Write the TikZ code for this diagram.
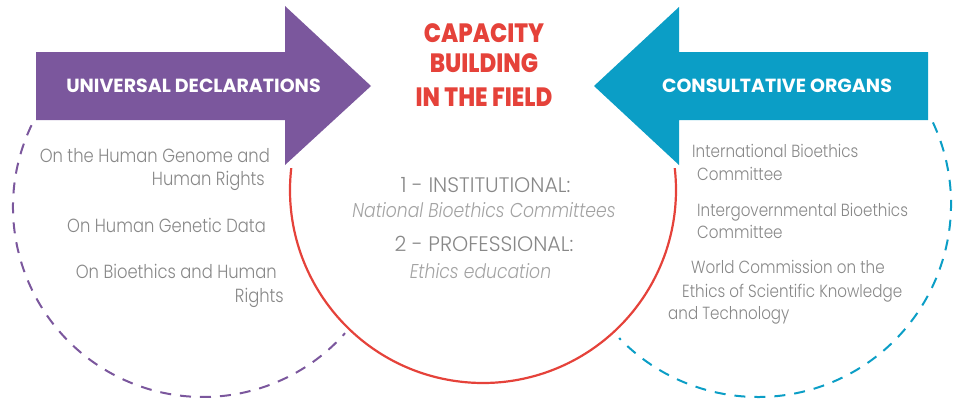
\documentclass[tikz,border=0pt]{standalone}
\usepackage{fontspec}
\setmainfont{Poppins}
\newfontfamily\hdfont{Poppins Bold}[FakeStretch=1.0]
\newfontfamily\ttlfont{Poppins ExtraBold}[FakeStretch=0.86]
\newfontfamily\bdfont{Poppins Light}[FakeStretch=0.86]
\newfontfamily\midfont{Poppins Light}[FakeStretch=0.98]
\newfontfamily\itfont{Poppins Light Italic}[FakeStretch=0.86]
\definecolor{upurple}{HTML}{7B579D}
\definecolor{ublue}{HTML}{0B9EC6}
\definecolor{ured}{HTML}{E5423A}
\definecolor{ugray}{HTML}{888888}
\definecolor{ulgray}{HTML}{A3A3A3}
\tikzset{
  hdtext/.style={text=white, inner sep=0pt, font=\hdfont\fontsize{19}{22}\selectfont},
  lefttxt/.style={anchor=base east, inner sep=0pt, text=ugray, font=\bdfont\fontsize{19}{23}\selectfont},
  righttxt/.style={anchor=base west, inner sep=0pt, text=ugray, font=\bdfont\fontsize{17.6}{23}\selectfont},
  midtxt/.style={anchor=base, inner sep=0pt, text=ugray, font=\midfont\fontsize{21}{25}\selectfont},
  miditxt/.style={anchor=base, inner sep=0pt, text=ulgray, font=\itfont\fontsize{20}{25}\selectfont},
  ttltxt/.style={anchor=base, inner sep=0pt, text=ured, font=\ttlfont\fontsize{26.5}{32}\selectfont},
  dashring/.style={line width=2pt, dash pattern=on 11pt off 9pt}
}
\begin{document}
\begin{tikzpicture}[x=1pt,y=1pt]
\useasboundingbox (0,0) rectangle (955,400);
% dashed rings
\draw[dashring, upurple] (203,193) ++(154.5:190) arc[start angle=154.5, end angle=318.4, radius=190];
\draw[dashring, ublue] (758,196) ++(25:193) arc[start angle=25, end angle=-136, radius=193];
% red ring
\draw[ured, line width=2.2pt] (483,210) ++(173.5:193) arc[start angle=173.5, end angle=366.5, radius=193];
% arrows
\fill[upurple] (36,348) -- (285,348) -- (285,394) -- (371,314) -- (285,235) -- (285,280) -- (36,280) -- cycle;
\fill[ublue] (928,348) -- (679,348) -- (679,393) -- (594,314) -- (679,235) -- (679,280) -- (928,280) -- cycle;
\node[hdtext, anchor=base] (ud) at (193.5,308) {UNIVERSAL DECLARATIONS};
\node[hdtext, anchor=base] (co) at (777,308) {CONSULTATIVE ORGANS};
% title
\node[ttltxt] (t1) at (484,358) {CAPACITY};
\node[ttltxt] (t2) at (484,327) {BUILDING};
\node[ttltxt] (t3) at (484,294) {IN THE FIELD};
% centre
\node[midtxt] (c1) at (485.5,208) {1 - INSTITUTIONAL:};
\node[miditxt] (c2) at (484,183) {National Bioethics Committees};
\node[midtxt] (c3) at (484,149) {2 - PROFESSIONAL:};
\node[miditxt] (c4) at (480.5,122) {Ethics education};
% left
\node[lefttxt] (l1) at (270,238) {On the Human Genome and};
\node[lefttxt] (l2) at (265,215) {Human Rights};
\node[lefttxt] (l3) at (266,168) {On Human Genetic Data};
\node[lefttxt] (l4) at (277,122) {On Bioethics and Human};
\node[lefttxt] (l5) at (284,98) {Rights};
% right
\node[righttxt] (r1) at (692,243) {International Bioethics};
\node[righttxt] (r2) at (697,220) {Committee};
\node[righttxt] (r3) at (697,184) {Intergovernmental Bioethics};
\node[righttxt] (r4) at (697,162) {Committee};
\node[righttxt] (r5) at (691,127) {World Commission on the};
\node[righttxt] (r6) at (682,103) {Ethics of Scientific Knowledge};
\node[righttxt] (r7) at (668,81) {and Technology};
\end{tikzpicture}
\end{document}
